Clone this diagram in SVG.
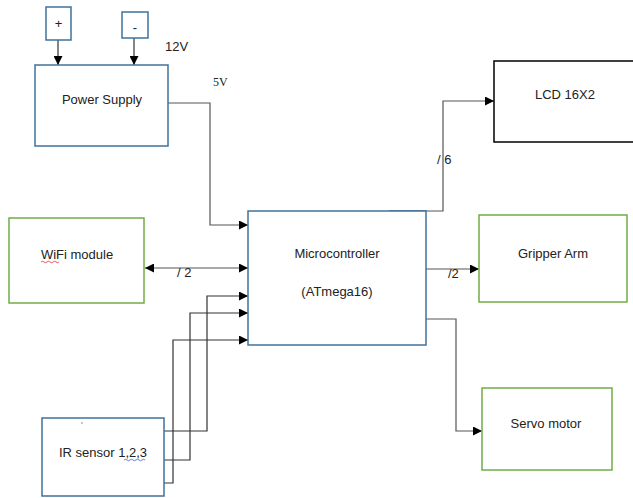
<svg xmlns="http://www.w3.org/2000/svg" width="633" height="498" viewBox="0 0 633 498">
<defs>
<marker id="ah" viewBox="0 0 10 10" refX="10" refY="5" markerWidth="9" markerHeight="9" markerUnits="userSpaceOnUse" orient="auto-start-reverse">
<path d="M0,0 L10,5 L0,10 z" fill="#000"/>
</marker>
</defs>
<style>
.blue{fill:#fff;stroke:#41719c;stroke-width:1.5}
.green{fill:#fff;stroke:#70ad47;stroke-width:1.5}
.black{fill:#fff;stroke:#000;stroke-width:1.5}
.lbl{font-family:"Liberation Sans",Arial,sans-serif;font-size:13px;fill:#222;text-anchor:middle}
.small{font-family:"Liberation Sans",Arial,sans-serif;font-size:13px;fill:#222}
.serif{font-family:"Liberation Serif","Times New Roman",serif;font-size:12px;fill:#222}
.conn{fill:none;stroke:#555;stroke-width:1.2}
.conn-k{fill:none;stroke:#333;stroke-width:1.2}
</style>
<rect width="633" height="498" fill="#fff"/>

<g id="connectors">
<path class="conn-k" d="M58,40 V65" marker-end="url(#ah)"/>
<path class="conn-k" d="M134,38 V65" marker-end="url(#ah)"/>
<path class="conn" d="M168,103 H210 V225 H248" marker-end="url(#ah)"/>
<path class="conn" d="M389,211 H443 V101 H494" marker-end="url(#ah)"/>
<path class="conn" d="M145,268 H248" marker-start="url(#ah)" marker-end="url(#ah)"/>
<path class="conn" d="M426,269 H479" marker-end="url(#ah)"/>
<path class="conn" d="M426,319 H456 V431 H482" marker-end="url(#ah)"/>
<path class="conn-k" d="M164,431 H207 V296 H248" marker-end="url(#ah)"/>
<path class="conn-k" d="M164,460 H190 V313 H248" marker-end="url(#ah)"/>
<path class="conn-k" d="M164,483 H173 V340 H248" marker-end="url(#ah)"/>
<line x1="389" y1="211.5" x2="426" y2="211.5" stroke="#41719c" stroke-width="2"/>
<text class="small" x="437" y="164" font-size="14">/ 6</text>
<text class="small" x="177" y="277" font-size="14">/ 2</text>
<text class="small" x="448" y="278" font-size="12">/2</text>
<text class="small" x="165" y="51">12V</text>
<text class="serif" x="213" y="86">5V</text>
</g>

<g id="plus">
<rect class="blue" x="46" y="7" width="25" height="33"/>
<text class="small" x="58.5" y="28" text-anchor="middle" font-size="11">+</text>
</g>
<g id="minus">
<rect class="blue" x="122" y="12" width="26" height="26"/>
<text class="small" x="135" y="32" text-anchor="middle" font-size="11">-</text>
</g>
<g id="power-supply">
<rect class="blue" x="35" y="65" width="133" height="81"/>
<text class="lbl" x="102" y="104">Power Supply</text>
</g>
<g id="lcd">
<rect class="black" x="494" y="61" width="140" height="81"/>
<text class="lbl" x="565" y="99">LCD 16X2</text>
</g>
<g id="wifi">
<rect class="green" x="9" y="218" width="135" height="85"/>
<text class="lbl" x="77" y="259">WiFi module</text>
<path d="M41,262 q1.5,-1.5 3,0 t3,0 t3,0 t3,0 t3,0 t3,0" fill="none" stroke="#e03030" stroke-width="0.8"/>
</g>
<g id="microcontroller">
<rect class="blue" x="248" y="211" width="178" height="134"/>
<text class="lbl" x="337" y="258">Microcontroller</text>
<text class="lbl" x="337" y="296">(ATmega16)</text>
</g>
<g id="gripper">
<rect class="green" x="479" y="215" width="148" height="87"/>
<text class="lbl" x="553" y="258">Gripper Arm</text>
</g>
<g id="servo">
<rect class="green" x="482" y="388" width="130" height="82"/>
<text class="lbl" x="546" y="428">Servo motor</text>
</g>
<g id="ir-sensor">
<rect class="blue" x="42" y="418" width="122" height="78"/>
<circle cx="82" cy="423" r="0.7" fill="#41719c"/>
<text class="lbl" x="103" y="457">IR sensor 1,2,3</text>
<path d="M124,460 q1.5,-1.5 3,0 t3,0 t3,0 t3,0 t3,0 t3,0 t3,0" fill="none" stroke="#4060d0" stroke-width="0.8"/>
</g>
</svg>
